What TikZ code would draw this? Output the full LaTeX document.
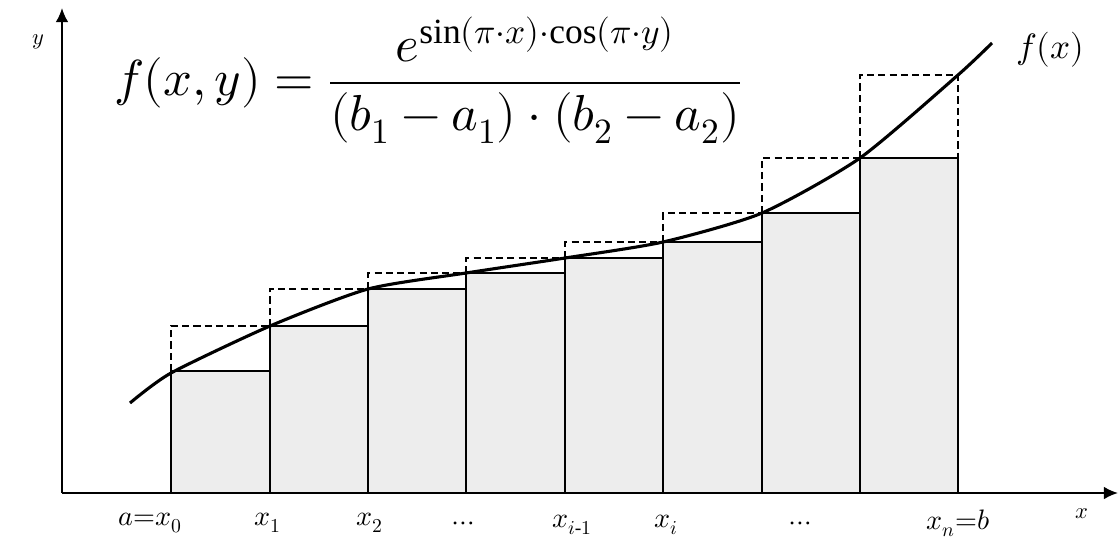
\documentclass[tikz,border=0pt]{standalone}
\usepackage{amsmath}
\usepackage{fontspec}
\usepackage{unicode-math}
\setmainfont{Liberation Serif}
\setmathfont{Latin Modern Math}
\usetikzlibrary{arrows.meta}
\definecolor{barfill}{HTML}{EDEDED}
\begin{document}
\begin{tikzpicture}[
        x=0.025cm, y=-0.025cm,
        axis/.style={line width=1.4pt, -{Latex[length=10pt, width=9pt]}},
        barbox/.style={draw, fill=barfill, line width=0.9pt},
        guess/.style={dashed, line width=0.8pt, dash pattern=on 5pt off 3pt},
        curve/.style={line width=2.2pt},
        tick/.style={font=\fontsize{20}{24}\selectfont, inner sep=1pt}
    ]
        \useasboundingbox (0,0) rectangle (1120,542);

        % axes
        \coordinate (origin) at (62,493);
        \coordinate (ytip) at (62,8);
        \coordinate (xtip) at (1118,493);

        % dashed right-end boxes, then the bars
        \foreach \xa/\xb/\ylo/\yhi in {171/270/371/326, 270/368/326/289, 368/466/289/273, 466/565/273/258,
                                       565/663/258/242, 663/762/242/213, 762/860/213/158, 860/958/158/75}{
            \draw[guess] (\xa,\ylo) -- (\xa,\yhi) -- (\xb,\yhi) -- (\xb,\ylo);
            \draw[barbox] (\xa,493) rectangle (\xb,\ylo);
        }

        \draw[axis] (origin) -- (ytip);
        \draw[axis] (origin) -- (xtip);

        % the function
        \draw[curve] plot[smooth, tension=0.4] coordinates {(130,403) (171,373) (270,326) (368,289) (466,273)
            (565,258) (663,242) (762,213) (860,158) (958,75) (992,43)};

        % labels
        \node[tick, font=\fontsize{16}{19}\selectfont] (ylab) at (38,42) {$y$};
        \node[tick, font=\fontsize{16}{19}\selectfont] (xlab) at (1082,514) {$x$};
        \node[tick, font=\fontsize{25}{30}\selectfont] (flab) at (1050,50) {$f\mathbf{(}x\mathbf{)}$};
        \node[tick] (x0) at (150,523) {$a{=}x_0$};
        \node[tick] (x1) at (268,523) {$x_1$};
        \node[tick] (x2) at (370,523) {$x_2$};
        \node[tick] (dots1) at (463,526) {$\cdots$};
        \node[tick] (xim) at (572,525) {$x_{i\text{-}1}$};
        \node[tick] (xi) at (666,525) {$x_i$};
        \node[tick] (dots2) at (800,526) {$\cdots$};
        \node[tick] (xn) at (958,523) {$x_n{=}b$};

        \node[font=\fontsize{36}{44}\selectfont, inner sep=0pt] (formula) at (428,80)
            {$f(x,y)=\dfrac{e^{\sin(\pi\cdot x)\cdot\cos(\pi\cdot y)}}{(b_1-a_1)\cdot(b_2-a_2)}$};
    \end{tikzpicture}
\end{document}
